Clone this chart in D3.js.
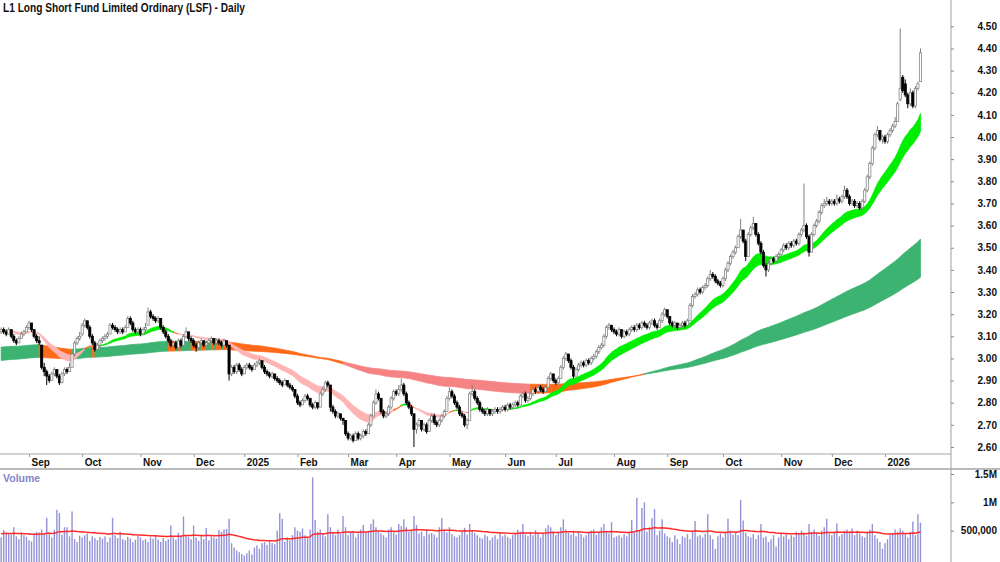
<!DOCTYPE html>
<html>
<head>
<meta charset="utf-8">
<script src="https://cdn.jsdelivr.net/npm/d3@7/dist/d3.min.js"></script>
<style>
body{margin:0;background:#fff;}
text{font-family:"Liberation Sans",Arial,sans-serif;}
</style>
</head>
<body>
<div id="graf"></div>
<script>
const naslov = "L1 Long Short Fund Limited Ordinary (LSF) - Daily";

// first trading day of each month, as bar index
const mjeseci = ["Sep","Oct","Nov","Dec","2025","Feb","Mar","Apr","May","Jun","Jul","Aug","Sep","Oct","Nov","Dec","2026"];
const mjeseciIdx = [11,32,55,76,96,117,137,156,177,199,219,242,263,285,308,328,349];

const cijeneTicks = [2.6,2.7,2.8,2.9,3.0,3.1,3.2,3.3,3.4,3.5,3.6,3.7,3.8,3.9,4.0,4.1,4.2,4.3,4.4,4.5];
const volumenTicks = [500000,1000000,1500000];
const volumenOznake = ["500,000","1M","1.5M"];

const kratkiPeriodi = [20,25,30];
const kratkiStart = [3.12,3.125,3.13];
const dugiPeriodi = [145,190,240];
const dugiStart = [3.05,3.02,2.99];
const volumenPeriod = 50;
const volumenStart = 450;

// daily candles [open, high, low, close], 16 Aug 2024 .. 22 Jan 2026
const svijece = [
[3.12,3.14,3.11,3.13],[3.13,3.14,3.11,3.12],[3.12,3.13,3.10,3.11],[3.11,3.14,3.11,3.13],[3.13,3.13,3.09,3.10],
[3.10,3.11,3.07,3.08],[3.08,3.09,3.06,3.07],[3.07,3.10,3.07,3.09],[3.09,3.12,3.09,3.11],[3.11,3.13,3.10,3.12],
[3.12,3.15,3.12,3.14],[3.14,3.17,3.13,3.16],[3.16,3.16,3.12,3.13],[3.13,3.13,3.09,3.10],[3.10,3.11,3.07,3.08],
[3.08,3.10,3.06,3.07],[3.06,3.06,2.95,2.96],[2.96,2.98,2.92,2.94],[2.94,2.95,2.88,2.92],[2.92,2.93,2.89,2.90],
[2.90,2.94,2.90,2.93],[2.93,2.96,2.92,2.95],[2.95,2.95,2.91,2.92],[2.92,2.93,2.88,2.89],[2.89,2.94,2.89,2.93],
[2.93,2.96,2.92,2.95],[2.95,2.96,2.93,2.94],[2.94,2.98,2.94,2.96],[2.96,3.03,2.96,3.02],[3.02,3.08,3.01,3.07],
[3.07,3.10,3.06,3.09],[3.09,3.12,3.08,3.10],[3.11,3.16,3.10,3.15],[3.15,3.18,3.14,3.17],[3.17,3.17,3.13,3.14],
[3.14,3.15,3.09,3.10],[3.10,3.11,3.06,3.07],[3.07,3.08,3.03,3.04],[3.04,3.07,3.03,3.06],[3.06,3.09,3.05,3.08],
[3.08,3.10,3.07,3.09],[3.09,3.11,3.08,3.10],[3.10,3.12,3.09,3.11],[3.11,3.16,3.11,3.15],[3.15,3.16,3.13,3.14],
[3.14,3.15,3.12,3.13],[3.13,3.14,3.11,3.12],[3.12,3.14,3.11,3.13],[3.13,3.14,3.11,3.12],[3.12,3.15,3.12,3.14],
[3.14,3.19,3.14,3.18],[3.18,3.19,3.15,3.16],[3.16,3.17,3.12,3.13],[3.13,3.14,3.11,3.12],[3.12,3.14,3.11,3.13],
[3.13,3.14,3.10,3.11],[3.11,3.14,3.11,3.13],[3.13,3.16,3.12,3.14],[3.15,3.23,3.15,3.21],[3.21,3.22,3.18,3.19],
[3.19,3.20,3.17,3.18],[3.18,3.19,3.16,3.17],[3.17,3.19,3.16,3.18],[3.18,3.18,3.13,3.14],[3.14,3.15,3.11,3.12],
[3.12,3.13,3.09,3.10],[3.10,3.11,3.07,3.08],[3.08,3.09,3.05,3.06],[3.06,3.08,3.05,3.07],[3.07,3.08,3.04,3.05],
[3.05,3.09,3.05,3.08],[3.08,3.09,3.05,3.06],[3.06,3.11,3.06,3.10],[3.10,3.14,3.09,3.12],[3.12,3.12,3.08,3.09],
[3.09,3.10,3.07,3.08],[3.08,3.09,3.05,3.06],[3.06,3.07,3.03,3.05],[3.05,3.08,3.04,3.07],[3.07,3.09,3.06,3.08],
[3.08,3.08,3.05,3.06],[3.06,3.08,3.05,3.07],[3.07,3.09,3.06,3.08],[3.08,3.10,3.07,3.09],[3.09,3.09,3.06,3.07],
[3.07,3.09,3.06,3.08],[3.08,3.09,3.06,3.07],[3.07,3.08,3.05,3.06],[3.06,3.09,3.06,3.08],[3.08,3.08,3.05,3.06],
[3.06,3.06,2.90,2.93],[2.93,2.97,2.92,2.96],[2.96,2.97,2.93,2.94],[2.94,2.98,2.93,2.97],[2.97,2.98,2.94,2.95],
[2.95,2.96,2.92,2.93],[2.93,2.97,2.93,2.96],[2.96,2.98,2.95,2.97],[2.97,2.98,2.95,2.96],[2.96,2.97,2.94,2.95],
[2.95,2.98,2.95,2.97],[2.97,2.99,2.96,2.98],[2.98,3.00,2.97,2.99],[2.99,2.99,2.95,2.96],[2.96,2.97,2.93,2.94],
[2.94,2.95,2.92,2.93],[2.93,2.94,2.91,2.92],[2.92,2.94,2.91,2.93],[2.93,2.93,2.90,2.91],[2.91,2.92,2.89,2.90],
[2.90,2.91,2.88,2.89],[2.89,2.90,2.87,2.88],[2.88,2.91,2.88,2.90],[2.90,2.90,2.87,2.88],[2.88,2.89,2.86,2.87],
[2.87,2.88,2.85,2.86],[2.86,2.86,2.82,2.83],[2.83,2.84,2.79,2.80],[2.80,2.81,2.78,2.79],[2.79,2.82,2.79,2.81],
[2.81,2.84,2.80,2.83],[2.83,2.84,2.81,2.82],[2.82,2.82,2.78,2.79],[2.79,2.80,2.77,2.78],[2.78,2.81,2.77,2.80],
[2.80,2.80,2.77,2.78],[2.78,2.85,2.78,2.84],[2.84,2.87,2.83,2.86],[2.86,2.90,2.85,2.89],[2.89,2.90,2.87,2.88],
[2.88,2.88,2.76,2.78],[2.78,2.79,2.75,2.76],[2.76,2.77,2.73,2.74],[2.74,2.76,2.73,2.75],[2.75,2.75,2.72,2.73],
[2.73,2.73,2.70,2.72],[2.72,2.72,2.65,2.66],[2.66,2.67,2.63,2.64],[2.64,2.66,2.63,2.65],[2.65,2.66,2.62,2.63],
[2.63,2.67,2.63,2.66],[2.66,2.67,2.63,2.64],[2.64,2.66,2.63,2.65],[2.65,2.68,2.64,2.67],[2.67,2.68,2.65,2.66],
[2.66,2.71,2.66,2.70],[2.70,2.75,2.69,2.74],[2.74,2.81,2.74,2.80],[2.80,2.86,2.79,2.84],[2.84,2.85,2.81,2.82],
[2.82,2.82,2.75,2.76],[2.76,2.77,2.73,2.74],[2.74,2.76,2.73,2.75],[2.75,2.79,2.74,2.78],[2.78,2.83,2.77,2.82],
[2.82,2.86,2.81,2.85],[2.85,2.86,2.83,2.84],[2.84,2.88,2.83,2.86],[2.86,2.91,2.85,2.88],[2.88,2.89,2.83,2.84],
[2.84,2.85,2.79,2.80],[2.80,2.81,2.77,2.78],[2.78,2.79,2.74,2.75],[2.75,2.75,2.60,2.68],[2.68,2.71,2.66,2.70],
[2.70,2.73,2.69,2.72],[2.72,2.72,2.67,2.68],[2.68,2.71,2.67,2.70],[2.70,2.71,2.66,2.67],[2.67,2.73,2.67,2.72],
[2.72,2.75,2.71,2.74],[2.74,2.75,2.70,2.71],[2.71,2.72,2.69,2.70],[2.70,2.73,2.69,2.72],[2.72,2.75,2.71,2.74],
[2.74,2.77,2.73,2.76],[2.76,2.83,2.76,2.82],[2.82,2.87,2.81,2.85],[2.85,2.86,2.82,2.83],[2.83,2.84,2.79,2.80],
[2.80,2.81,2.77,2.78],[2.78,2.79,2.74,2.75],[2.75,2.76,2.73,2.74],[2.74,2.75,2.69,2.70],[2.70,2.73,2.68,2.72],
[2.72,2.85,2.72,2.84],[2.84,2.88,2.83,2.85],[2.85,2.86,2.81,2.82],[2.82,2.83,2.79,2.80],[2.80,2.81,2.76,2.77],
[2.77,2.78,2.75,2.76],[2.76,2.77,2.74,2.75],[2.75,2.78,2.74,2.77],[2.77,2.77,2.74,2.75],[2.75,2.77,2.74,2.76],
[2.76,2.78,2.75,2.77],[2.77,2.78,2.75,2.76],[2.76,2.78,2.75,2.77],[2.77,2.79,2.76,2.78],[2.78,2.79,2.76,2.77],
[2.77,2.80,2.76,2.79],[2.79,2.80,2.77,2.78],[2.78,2.80,2.77,2.79],[2.79,2.81,2.78,2.80],[2.80,2.81,2.78,2.79],
[2.79,2.84,2.79,2.83],[2.83,2.85,2.82,2.84],[2.84,2.85,2.80,2.81],[2.81,2.83,2.80,2.82],[2.82,2.85,2.81,2.84],
[2.84,2.87,2.83,2.86],[2.86,2.87,2.84,2.85],[2.85,2.88,2.84,2.87],[2.87,2.88,2.85,2.86],[2.86,2.87,2.84,2.85],
[2.85,2.88,2.85,2.87],[2.87,2.92,2.87,2.91],[2.91,2.94,2.90,2.93],[2.93,2.93,2.89,2.90],[2.90,2.91,2.88,2.89],
[2.89,2.92,2.88,2.91],[2.91,2.97,2.91,2.96],[2.96,3.01,2.95,3.00],[3.00,3.03,2.99,3.02],[3.02,3.02,2.98,2.99],
[2.99,3.00,2.95,2.96],[2.96,2.97,2.91,2.92],[2.92,2.96,2.92,2.95],[2.95,2.98,2.94,2.97],[2.97,2.99,2.96,2.98],
[2.98,2.99,2.96,2.97],[2.97,3.00,2.96,2.99],[2.99,3.00,2.97,2.98],[2.98,3.01,2.97,3.00],[3.00,3.02,2.99,3.01],
[3.01,3.04,3.00,3.03],[3.03,3.06,3.02,3.05],[3.05,3.07,3.04,3.06],[3.06,3.11,3.05,3.10],[3.10,3.15,3.09,3.14],
[3.14,3.16,3.13,3.15],[3.15,3.15,3.12,3.13],[3.13,3.14,3.11,3.12],[3.12,3.13,3.10,3.11],[3.11,3.14,3.10,3.13],
[3.13,3.13,3.09,3.10],[3.10,3.13,3.09,3.12],[3.12,3.13,3.10,3.11],[3.11,3.14,3.10,3.13],[3.13,3.15,3.12,3.14],
[3.14,3.15,3.12,3.13],[3.13,3.16,3.12,3.15],[3.15,3.16,3.13,3.14],[3.14,3.17,3.13,3.16],[3.16,3.17,3.14,3.15],
[3.15,3.16,3.13,3.14],[3.14,3.17,3.13,3.16],[3.16,3.18,3.15,3.17],[3.17,3.18,3.14,3.15],[3.15,3.16,3.13,3.14],
[3.14,3.18,3.14,3.17],[3.17,3.21,3.16,3.20],[3.20,3.23,3.19,3.22],[3.22,3.22,3.18,3.19],[3.19,3.19,3.15,3.16],
[3.16,3.17,3.14,3.15],[3.15,3.17,3.14,3.16],[3.16,3.16,3.13,3.14],[3.14,3.16,3.13,3.15],[3.15,3.17,3.14,3.16],
[3.16,3.17,3.14,3.15],[3.15,3.18,3.14,3.17],[3.17,3.25,3.17,3.24],[3.24,3.29,3.23,3.28],[3.28,3.30,3.27,3.29],
[3.29,3.32,3.28,3.31],[3.31,3.32,3.29,3.30],[3.30,3.33,3.29,3.32],[3.32,3.34,3.31,3.33],[3.33,3.37,3.32,3.36],
[3.36,3.40,3.35,3.38],[3.38,3.39,3.36,3.37],[3.37,3.38,3.34,3.35],[3.35,3.36,3.33,3.34],[3.34,3.35,3.32,3.33],
[3.33,3.37,3.32,3.36],[3.36,3.41,3.35,3.40],[3.40,3.44,3.39,3.43],[3.43,3.47,3.42,3.46],[3.46,3.49,3.45,3.48],
[3.48,3.51,3.47,3.50],[3.50,3.56,3.50,3.55],[3.55,3.63,3.54,3.58],[3.58,3.58,3.52,3.53],[3.53,3.54,3.44,3.46],
[3.46,3.57,3.46,3.56],[3.56,3.60,3.55,3.59],[3.59,3.64,3.58,3.61],[3.61,3.61,3.55,3.56],[3.56,3.57,3.51,3.52],
[3.52,3.53,3.47,3.48],[3.48,3.49,3.41,3.42],[3.42,3.43,3.37,3.40],[3.40,3.44,3.39,3.43],[3.43,3.46,3.42,3.45],
[3.45,3.46,3.43,3.44],[3.44,3.47,3.43,3.46],[3.46,3.48,3.45,3.47],[3.47,3.50,3.46,3.49],[3.49,3.52,3.48,3.51],
[3.51,3.52,3.49,3.50],[3.50,3.53,3.49,3.52],[3.52,3.53,3.50,3.51],[3.51,3.54,3.50,3.53],[3.53,3.54,3.51,3.52],
[3.52,3.57,3.51,3.56],[3.56,3.59,3.55,3.58],[3.58,3.79,3.57,3.60],[3.60,3.61,3.54,3.55],[3.55,3.56,3.46,3.48],
[3.48,3.57,3.48,3.56],[3.56,3.61,3.55,3.60],[3.60,3.63,3.59,3.62],[3.62,3.67,3.61,3.66],[3.66,3.70,3.65,3.69],
[3.69,3.72,3.68,3.70],[3.70,3.73,3.69,3.71],[3.71,3.72,3.69,3.70],[3.70,3.72,3.69,3.71],[3.71,3.72,3.69,3.70],
[3.70,3.74,3.69,3.72],[3.72,3.73,3.70,3.71],[3.71,3.74,3.70,3.73],[3.73,3.78,3.72,3.76],[3.76,3.77,3.72,3.73],
[3.73,3.74,3.69,3.70],[3.70,3.72,3.69,3.71],[3.71,3.72,3.68,3.69],[3.69,3.71,3.68,3.70],[3.70,3.71,3.67,3.68],
[3.68,3.72,3.67,3.71],[3.71,3.77,3.70,3.76],[3.76,3.83,3.75,3.82],[3.82,3.89,3.81,3.88],[3.88,3.96,3.87,3.95],
[3.95,4.02,3.94,4.01],[4.01,4.05,4.00,4.03],[4.03,4.03,3.98,3.99],[3.99,4.01,3.97,4.00],[4.00,4.01,3.97,3.98],
[3.98,4.02,3.97,4.01],[4.01,4.04,4.00,4.03],[4.03,4.06,4.02,4.05],[4.05,4.09,4.04,4.07],[4.07,4.16,4.07,4.15],
[4.17,4.49,4.16,4.22],[4.27,4.28,4.20,4.21],[4.24,4.26,4.18,4.19],[4.19,4.20,4.13,4.15],[4.15,4.22,4.14,4.20],
[4.20,4.21,4.13,4.14],[4.14,4.23,4.13,4.22],[4.22,4.25,4.21,4.24],[4.25,4.40,4.25,4.38]
];

// daily volume, thousands of units
const volumen = [
380,514,470,450,430,560,400,350,470,420, 390,330,310,450,480,470,520,430,727,460,
380,514,868,811,430,560,560,400,840,350, 300,410,380,420,450,320,400,370,330,390,
360,400,300,380,727,420,370,480,350,330, 390,360,300,340,410,380,330,350,300,380,
360,410,340,300,370,320,350,590,380,340, 460,400,750,420,390,350,590,380,320,420,
350,550,330,400,380,360,510,480,520,530, 710,280,200,150,120,90,60,100,150,80,
200,240,180,280,300,250,330,280,260,500, 810,710,300,380,330,420,560,500,480,540,
420,390,520,1440,690,480,520,450,400,790, 560,480,420,520,440,760,560,420,480,500,
380,450,520,600,480,500,620,700,560,480, 450,420,380,520,560,470,430,620,580,700,
560,480,520,760,600,450,480,400,520,440, 460,430,380,560,720,500,470,560,440,400,
380,420,480,550,430,620,500,460,420,380, 360,430,400,330,380,420,350,460,400,430,
390,360,420,440,520,480,620,430,400,480, 420,510,460,380,450,540,600,560,490,420,
480,560,700,520,460,430,500,400,470,440, 380,420,460,500,520,430,480,560,620,500,
450,650,380,400,420,380,440,400,460,690, 460,1080,500,900,1000,480,560,720,880,420,
500,700,450,400,380,300,420,350,260,400, 380,440,350,480,670,400,420,380,440,790,
420,350,180,400,450,380,460,710,500,430, 480,420,1040,680,460,400,380,440,350,420,
620,380,400,300,350,420,220,380,440,400, 460,350,420,390,480,440,500,460,410,620,
480,520,450,410,500,560,710,450,420,480, 630,400,440,500,520,480,540,420,500,450,
400,380,480,520,620,420,360,300,180,280, 350,420,460,520,480,540,500,450,380,480,
660,420,790,640
];

function crtajGraf()
{
    const dimenzije = {
        sirina:1000,
        visina:562,
        osX:951,
        cijenaDno:454,
        razdjel:469,
    };

    const okvir = d3.select("#graf")
        .append("svg")
        .attr("width",dimenzije.sirina)
        .attr("height",dimenzije.visina)
        .style("display","block")
        .style("background","#fff");

    const x = d3.scaleLinear()
        .domain([mjeseciIdx[0], mjeseciIdx[mjeseciIdx.length-1]])
        .range([29,885]);
    const y = d3.scaleLinear().domain([2.6,4.5]).range([447,26.3]);
    const yv = d3.scaleLinear().domain([0,1500000]).range([559,474]);

    okvir.append("clipPath").attr("id","rez")
        .append("rect").attr("x",0).attr("y",0)
        .attr("width",dimenzije.osX).attr("height",dimenzije.cijenaDno);
    okvir.append("clipPath").attr("id","rezv")
        .append("rect").attr("x",0).attr("y",dimenzije.razdjel+1)
        .attr("width",dimenzije.osX).attr("height",dimenzije.visina-dimenzije.razdjel);

    const zatvaranja = svijece.map(d=>d[3]);
    const ema = (vals,n,pocetak) => {
        const a = 2/(n+1);
        let e = pocetak;
        return vals.map(v => (e = e + a*(v-e)));
    };

    // band between fastest and slowest EMA of a group; colour from their order
    // (long group: also needs every EMA moving the same way)
    function crtajTraku(periodi,pocetci,boje,nagib)
    {
        const linije = periodi.map((n,k)=>ema(zatvaranja,n,pocetci[k]));
        const tocke = zatvaranja.map((c,i)=>{
            const v = linije.map(l=>l[i]);
            let gore = true, dolje = true;
            for(let k=0;k<v.length-1;k++){
                if(!(v[k]>v[k+1])) gore = false;
                if(!(v[k]<v[k+1])) dolje = false;
            }
            if(nagib && i>0){
                linije.forEach(l=>{
                    if(!(l[i]>l[i-1])) gore = false;
                    if(!(l[i]<l[i-1])) dolje = false;
                });
            }
            return {i:i, min:d3.min(v), max:d3.max(v), boja: gore ? boje[0] : (dolje ? boje[1] : boje[2])};
        });
        const dijelovi = [];
        tocke.forEach((t,i)=>{
            if(i===0 || t.boja!==tocke[i-1].boja) dijelovi.push({boja:t.boja, tocke:i>0 ? [tocke[i-1],t] : [t]});
            else dijelovi[dijelovi.length-1].tocke.push(t);
        });
        const povrsina = d3.area()
            .x(d=>x(d.i))
            .y0(d=>y(d.min))
            .y1(d=>y(d.max));
        okvir.append("g")
            .attr("clip-path","url(#rez)")
            .selectAll("path")
            .data(dijelovi)
            .enter()
            .append("path")
            .attr("d",d=>povrsina(d.tocke))
            .attr("fill",d=>d.boja)
            .attr("stroke",d=>d.boja)
            .attr("stroke-width",0.8);
    }

    crtajTraku(dugiPeriodi,dugiStart,["#3cb371","#f58383","#ff6a1a"],true);
    crtajTraku(kratkiPeriodi,kratkiStart,["#00ee00","#ffb4b4","#ff6a1a"],false);

    const svijeca = okvir.append("g")
        .attr("clip-path","url(#rez)")
        .selectAll("g")
        .data(svijece)
        .enter()
        .append("g");

    svijeca.append("line")
        .attr("x1",(d,i)=>x(i)).attr("x2",(d,i)=>x(i))
        .attr("y1",d=>y(d[1])).attr("y2",d=>y(d[2]))
        .attr("stroke",d=>d[3]>=d[0] ? "#808080" : "#000")
        .attr("stroke-width",1);

    svijeca.append("rect")
        .attr("x",(d,i)=>x(i)-1.1)
        .attr("width",2.2)
        .attr("y",d=>y(Math.max(d[0],d[3])))
        .attr("height",d=>Math.max(1,Math.abs(y(d[0])-y(d[3]))))
        .attr("fill",d=>d[3]>=d[0] ? "#fff" : "#000")
        .attr("stroke",d=>d[3]>=d[0] ? "#808080" : "#000")
        .attr("stroke-width",0.75);

    // volume
    okvir.append("g")
        .attr("clip-path","url(#rezv)")
        .selectAll("rect")
        .data(volumen)
        .enter()
        .append("rect")
        .attr("x",(d,i)=>x(i)-0.7)
        .attr("width",1.4)
        .attr("y",d=>yv(d*1000))
        .attr("height",d=>dimenzije.visina-yv(d*1000))
        .attr("fill","#9393d8");

    const volumenProsjek = ema(volumen,volumenPeriod,volumenStart);
    okvir.append("path")
        .datum(volumenProsjek)
        .attr("clip-path","url(#rezv)")
        .attr("d",d3.line().x((d,i)=>x(i)).y(d=>yv(d*1000)))
        .attr("fill","none")
        .attr("stroke","#ff2a2a")
        .attr("stroke-width",1.5);

    // axes
    okvir.append("line")
        .attr("x1",0).attr("x2",dimenzije.osX)
        .attr("y1",dimenzije.cijenaDno).attr("y2",dimenzije.cijenaDno)
        .attr("stroke","#a8a8a8").attr("stroke-width",1.2);
    okvir.append("line")
        .attr("x1",0).attr("x2",dimenzije.sirina)
        .attr("y1",dimenzije.razdjel).attr("y2",dimenzije.razdjel)
        .attr("stroke","#777").attr("stroke-width",1.2);
    okvir.append("line")
        .attr("x1",dimenzije.osX).attr("x2",dimenzije.osX)
        .attr("y1",0).attr("y2",dimenzije.visina)
        .attr("stroke","#a0a0a0").attr("stroke-width",1);

    const osX = okvir.append("g")
        .attr("transform","translate(0,"+dimenzije.cijenaDno+")")
        .call(d3.axisBottom(x).tickValues(mjeseciIdx).tickFormat((d,i)=>mjeseci[i]).tickSize(3));
    osX.select(".domain").remove();
    osX.selectAll("line").attr("stroke","#999");
    osX.selectAll("text")
        .attr("text-anchor","start")
        .attr("x",2)
        .attr("y",5)
        .style("font-size","10px")
        .style("font-weight","bold")
        .style("font-family","'Liberation Sans',Arial,sans-serif")
        .attr("fill","#111");

    const osY = okvir.append("g")
        .attr("transform","translate("+dimenzije.osX+",0)")
        .call(d3.axisRight(y).tickValues(cijeneTicks).tickFormat(d3.format(".2f")).tickSize(3));
    const osV = okvir.append("g")
        .attr("transform","translate("+dimenzije.osX+",0)")
        .call(d3.axisRight(yv).tickValues(volumenTicks).tickFormat((d,i)=>volumenOznake[i]).tickSize(3));
    [osY,osV].forEach(os=>{
        os.select(".domain").remove();
        os.selectAll("line").attr("stroke","#888");
        os.selectAll("text")
            .attr("text-anchor","end")
            .attr("x",46)
            .style("font-size","10px")
            .style("font-weight","bold")
            .style("font-family","'Liberation Sans',Arial,sans-serif")
            .attr("fill","#111");
    });

    okvir.append("text")
        .attr("x",3)
        .attr("y",12)
        .attr("textLength",242)
        .attr("lengthAdjust","spacingAndGlyphs")
        .style("font-size","12.5px")
        .style("font-weight","bold")
        .attr("fill","#111")
        .text(naslov);

    okvir.append("text")
        .attr("x",3)
        .attr("y",482)
        .style("font-size","10.5px")
        .style("font-weight","bold")
        .attr("fill","#8585c8")
        .text("Volume");
}
crtajGraf();
</script>
</body>
</html>
